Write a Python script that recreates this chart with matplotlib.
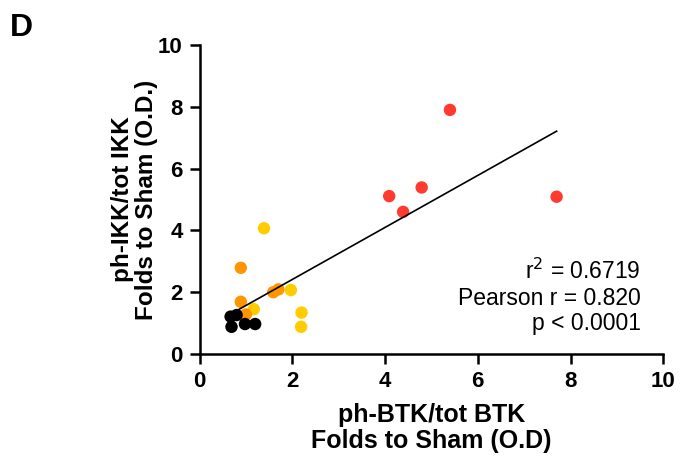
#!/usr/bin/env python3

"""
plot.py - correlation of ph-BTK and ph-IKK (panel D)
"""

import numpy as np
from matplotlib import pyplot as plt

plt.rcParams['font.family'] = ['Liberation Sans', 'DejaVu Sans']

# Groups: (x, y) = (ph-BTK, ph-IKK)
black_x = [0.67, 0.69, 0.98, 1.20, 0.80]
black_y = [1.21, 0.88, 0.97, 0.97, 1.26]
orange_x = [0.89, 0.89, 1.59, 1.70, 1.00]
orange_y = [2.79, 1.69, 2.00, 2.09, 1.28]
yellow_x = [1.39, 1.97, 2.20, 2.19, 1.17]
yellow_y = [4.07, 2.07, 1.34, 0.88, 1.45]
red_x = [5.40, 4.09, 4.79, 4.39, 7.70]
red_y = [7.90, 5.11, 5.39, 4.60, 5.09]

groups = [
  (yellow_x, yellow_y, '#FFCC00'),
  (orange_x, orange_y, '#FF9500'),
  (black_x, black_y, '#000000'),
  (red_x, red_y, '#FF3B30'),
]

stats_text = 'r$^2$ = 0.6719\nPearson r = 0.820\np < 0.0001'

fig = plt.figure(figsize=(6.84, 4.65), dpi=100)
ax = fig.add_axes([0.2917, 0.2387, 0.678, 0.6645])

for gx, gy, col in groups:
  ax.scatter(gx, gy, s=80, color=col, edgecolors='none', zorder=3)

# Linear regression over all points
all_x = np.array(black_x + orange_x + yellow_x + red_x)
all_y = np.array(black_y + orange_y + yellow_y + red_y)
slope, intercept = np.polyfit(all_x, all_y, 1)
xs = np.array([all_x.min(), all_x.max()])
ax.plot(xs, slope * xs + intercept, color='black', lw=1.2, zorder=4)

ax.set_xlim(0, 10)
ax.set_ylim(0, 10)
ax.set_xticks([0, 2, 4, 6, 8, 10])
ax.set_yticks([0, 2, 4, 6, 8, 10])

for side in ['top', 'right']:
  ax.spines[side].set_visible(False)
for side in ['left', 'bottom']:
  ax.spines[side].set_linewidth(1.8)
ax.tick_params(width=1.8, length=7, labelsize=16, pad=5)
for lab in ax.get_xticklabels() + ax.get_yticklabels():
  lab.set_fontweight('bold')

ax.set_xlabel('ph-BTK/tot BTK\nFolds to Sham (O.D)', fontsize=18,
              fontweight='bold', labelpad=8, linespacing=1.1)
ax.set_ylabel('ph-IKK/tot IKK\nFolds to Sham (O.D.)', fontsize=17.5,
              fontweight='bold', labelpad=0, linespacing=1.05)

ax.text(0.951, 0.184, stats_text, transform=ax.transAxes, ha='right',
        va='center', fontsize=16.5, linespacing=1.15)

fig.text(0.015, 0.94, 'D', fontsize=23, fontweight='bold', va='center')

fig.savefig('out.png', dpi=100)
